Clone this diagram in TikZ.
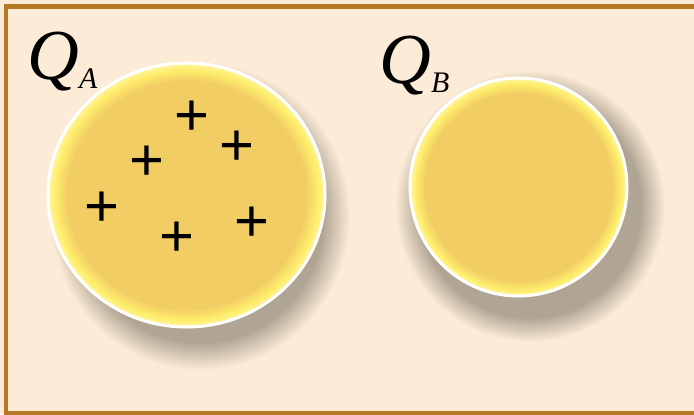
\documentclass[tikz,border=0pt]{standalone}
\usepackage{fontspec}
\setmainfont{Liberation Serif}
\newfontfamily\plusfont{Liberation Sans}
\usetikzlibrary{shapes.geometric}

\definecolor{paper}{RGB}{251,235,215}
\definecolor{framebrown}{RGB}{180,120,38}
\definecolor{ballgold}{RGB}{241,205,100}
\definecolor{ballrim}{RGB}{255,238,108}
\definecolor{shadowgray}{RGB}{176,164,148}

\pgfdeclareradialshading{ballfill}{\pgfpoint{0bp}{0bp}}{%
  color(0bp)=(ballgold); color(21.5bp)=(ballgold); color(23.8bp)=(ballrim);
  color(25bp)=(ballrim!60!white); color(50bp)=(ballrim!60!white)}
\pgfdeclareradialshading{ballshadow}{\pgfpoint{0bp}{0bp}}{%
  color(0bp)=(shadowgray); color(20.5bp)=(shadowgray);
  color(22.5bp)=(shadowgray!55!paper); color(25bp)=(paper); color(50bp)=(paper)}

\begin{document}
\begin{tikzpicture}[
    x=1bp, y=-1bp,
    frame/.style={
        draw=framebrown,
        line width=4.5bp
    },
    shadowblob/.style={
        ellipse,
        inner sep=0pt,
        shading=ballshadow
    },
    ball/.style={
        ellipse,
        inner sep=0pt,
        draw=white,
        line width=3bp,
        shading=ballfill
    },
    qlabel/.style={
        inner sep=0pt,
        anchor=base west,
        font=\fontsize{72}{72}\selectfont\itshape
    },
    charge/.style={
        inner sep=0pt,
        font=\plusfont\fontsize{60}{60}\selectfont
    }
]

    % background and frame
    \useasboundingbox (0,0) rectangle (694,414);
    \fill[paper] (0,0) rectangle (694,414);
    \draw[frame] (5.8,6.5) rectangle (720,413.5);

    % shadows
    \node[shadowblob, minimum width=300bp, minimum height=308bp] (shadowA) at (200,216) {};
    \node[shadowblob, minimum width=270bp, minimum height=272bp] (shadowB) at (530,206) {};

    % spheres
    \node[ball, minimum width=277bp, minimum height=264bp] (ballA) at (186.5,195) {};
    \node[ball, minimum width=217bp, minimum height=218bp] (ballB) at (518.5,187) {};

    % labels
    \node[qlabel] (labelA) at (27,79) {Q\raisebox{-9bp}{\fontsize{30}{30}\selectfont A}};
    \node[qlabel] (labelB) at (379,83) {Q\raisebox{-9bp}{\fontsize{30}{30}\selectfont B}};

    % charges on A
    \node[charge] (plus1) at (192,118) {+};
    \node[charge] (plus2) at (237,148) {+};
    \node[charge] (plus3) at (147,163) {+};
    \node[charge] (plus4) at (102,209) {+};
    \node[charge] (plus5) at (252,224) {+};
    \node[charge] (plus6) at (177,239) {+};

\end{tikzpicture}
\end{document}
